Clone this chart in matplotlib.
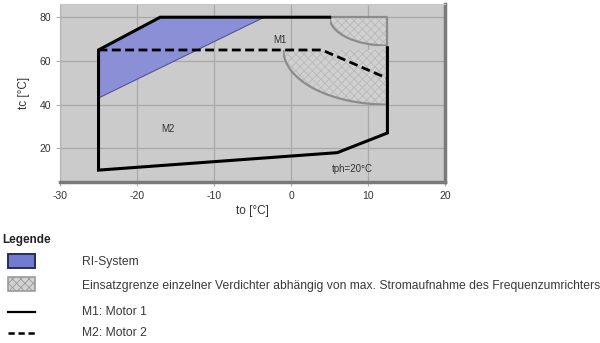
import matplotlib
matplotlib.use("Agg")
import matplotlib.pyplot as plt
from matplotlib.patches import Ellipse, Rectangle, Polygon

plt.rcParams['font.family'] = ['Liberation Sans', 'DejaVu Sans']
plt.rcParams['axes.unicode_minus'] = False
plt.rcParams['hatch.linewidth'] = 0.6

# ── data ──
# M1 envelope (solid), from the right edge round to the top
m1_to = [12.5, 12.5, 6, -25, -25, -17, 5]
m1_tc = [66, 27, 18, 10, 65, 80, 80]
# grey border of the current-limited corner
lim_to = [5, 12.5, 12.5]
lim_tc = [80, 80, 66]
# M2 upper limit (dashed)
m2_to = [-25, 4, 12.5]
m2_tc = [65, 65, 52]
# RI-System area
ri_to = [-25, -17, -3.5, -25]
ri_tc = [65, 80, 80, 43]
# quarter-ellipse limits: centre (to, tc) and half axes
arc_centres = [(12.5, 80), (12.5, 65)]
arc_radii = [(7.5, 13), (13.5, 25)]

x_ticks = [-30, -20, -10, 0, 10, 20]
y_ticks = [20, 40, 60, 80]

legend_labels = [
    "RI-System",
    "Einsatzgrenze einzelner Verdichter abhängig von max. Stromaufnahme des Frequenzumrichters",
    "M1: Motor 1",
    "M2: Motor 2",
]

fig = plt.figure(figsize=(6, 3.43), dpi=100)
ax = fig.add_axes([0.1, 0.469, 0.642, 0.519])
ax.set_facecolor('#cbcbcb')
ax.set_xlim(-30, 20)
ax.set_ylim(4.5, 86)
ax.set_xticks(x_ticks)
ax.set_yticks(y_ticks)
ax.grid(True, color='#a9a9a9', lw=0.9)
ax.set_axisbelow(True)

# hatched corners (fill + separate grey arc)
for (cx, cy), (a, b) in zip(arc_centres, arc_radii):
    clip = Rectangle((cx - a, cy - b), a, b, transform=ax.transData)
    fill = Ellipse((cx, cy), 2 * a, 2 * b, facecolor='#d0d0d0', edgecolor='#b9b9b9',
                   lw=0, hatch='xxxx', zorder=2)
    ax.add_patch(fill)
    fill.set_clip_path(clip)
    edge = Ellipse((cx, cy), 2 * a, 2 * b, fill=False, edgecolor='#8c8c8c',
                   lw=1.6, zorder=2.5)
    ax.add_patch(edge)
    edge.set_clip_path(clip)

ax.add_patch(Polygon(list(zip(ri_to, ri_tc)), closed=True, facecolor='#8a8fd6',
                     edgecolor='#50559a', lw=0.8, zorder=3))

ax.plot(lim_to, lim_tc, color='#8c8c8c', lw=1.6, zorder=4)
ax.plot(m1_to, m1_tc, color='black', lw=2.2, zorder=5, solid_joinstyle='miter')
ax.plot(m2_to, m2_tc, color='black', lw=2.0, ls=(0, (3.2, 1.6)), zorder=5)

ax.text(-1.5, 69.5, "M1", fontsize=7, color='#333333', ha='center', va='center')
ax.text(-16, 29, "M2", fontsize=7, color='#333333', ha='center', va='center')
ax.text(8, 10.5, "tph=20°C", fontsize=7, color='#333333', ha='center', va='center')

ax.spines['top'].set_color('#c8c8c8')
ax.spines['left'].set_color('#b5b5b5')
for side in ['bottom', 'right']:
    ax.spines[side].set_color('#7a7a7a')
    ax.spines[side].set_linewidth(2.5)
ax.tick_params(colors='#b0b0b0', labelcolor='#333333', labelsize=7.5, length=3, width=0.8)
ax.set_xlabel("to [°C]", fontsize=8.5, color='#333333', labelpad=3)
ax.set_ylabel("tc [°C]", fontsize=8.5, color='#333333', labelpad=7)

# ── legend block below the chart ──
lg = fig.add_axes([0, 0, 1, 1])
lg.set_xlim(0, 600)
lg.set_ylim(343, 0)
lg.axis('off')
lg.text(2, 240, "Legende", fontsize=8.5, fontweight='bold', color='#222222', va='center')
row_y = [262, 286, 312, 333]
lg.add_patch(Rectangle((8, 254), 27, 14, facecolor='#717bd0', edgecolor='#2a2d5a', lw=1.4))
lg.add_patch(Rectangle((8, 277), 27, 14, facecolor='#d2d2d2', edgecolor='#9a9a9a',
                       lw=1.2, hatch='xxxx'))
lg.plot([8, 35], [row_y[2], row_y[2]], color='black', lw=1.6)
lg.plot([8, 35], [row_y[3], row_y[3]], color='black', lw=1.8, ls=(0, (2.5, 1.5)))
for y, lab in zip(row_y, legend_labels):
    lg.text(82, y, lab, fontsize=8.7, color='#3a3a3a', va='center')

fig.savefig("out.png", dpi=100)
